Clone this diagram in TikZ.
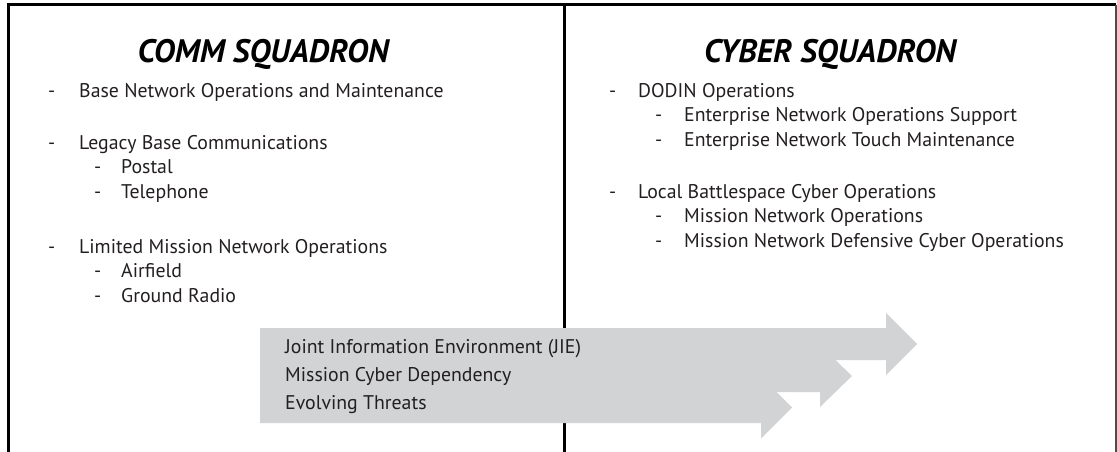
\documentclass[tikz,border=0pt]{standalone}
\usepackage{fontspec}
\setmainfont{PT Sans}
\definecolor{inkblack}{HTML}{231F20}
\definecolor{trendgrey}{HTML}{D1D3D4}
% grey trend arrow: top, bottom, start of head, tip
\newcommand\trendarrow[4]{\fill[trendgrey] (260,#1) -- (#3,#1) -- (#3,{(#1+#2)/2-31}) -- (#4,{(#1+#2)/2}) -- (#3,{(#1+#2)/2+31}) -- (#3,#2) -- (260,#2) -- cycle;}

\begin{document}
\begin{tikzpicture}[x=1pt,y=-1pt,
	heading/.style={anchor=base, inner sep=0, text=black, font=\fontsize{32.5}{36}\selectfont\bfseries\itshape},
	item/.style={anchor=base west, inner sep=0, text=inkblack, font=\fontsize{19.8}{22}\selectfont},
	frameline/.style={line width=3pt, draw=black}]
		%%%%% START %%%%%
		\useasboundingbox (0,0) rectangle (1117,452);
		
		% frame, open at the bottom
		\draw[frameline] (8,452) -- (8,5) -- (1116,5);
		\draw[line width=2pt, draw=black!70] (1115.5,5) -- (1115.5,452);
		\draw[frameline] (564,5) -- (564,452);
		
		% headings
		\node[heading] (commtitle) at (263,63) {COMM SQUADRON};
		\node[heading] (cybertitle) at (830,63) {CYBER SQUADRON};
		
		% comm squadron list
		\node[item] (commdashA) at (48,97) {-};
		\node[item] (commA) at (79,97) {Base Network Operations and Maintenance};
		\node[item] (commdashB) at (48,149) {-};
		\node[item] (commB) at (79,149) {Legacy Base Communications};
		\node[item] (commdashBa) at (94,173.5) {-};
		\node[item] (commBa) at (121,173.5) {Postal};
		\node[item] (commdashBb) at (94,198) {-};
		\node[item] (commBb) at (121,198) {Telephone};
		\node[item] (commdashC) at (48,253) {-};
		\node[item] (commC) at (79,253) {Limited Mission Network Operations};
		\node[item] (commdashCa) at (94,277.5) {-};
		\node[item] (commCa) at (121,277.5) {Airfield};
		\node[item] (commdashCb) at (94,302) {-};
		\node[item] (commCb) at (121,302) {Ground Radio};
		
		% cyber squadron list
		\node[item] (cyberdashA) at (609,97) {-};
		\node[item] (cyberA) at (638,97) {DODIN Operations};
		\node[item] (cyberdashAa) at (655,121.5) {-};
		\node[item] (cyberAa) at (684,121.5) {Enterprise Network Operations Support};
		\node[item] (cyberdashAb) at (655,146) {-};
		\node[item] (cyberAb) at (684,146) {Enterprise Network Touch Maintenance};
		\node[item] (cyberdashB) at (609,198) {-};
		\node[item] (cyberB) at (638,198) {Local Battlespace Cyber Operations};
		\node[item] (cyberdashBa) at (655,222.5) {-};
		\node[item] (cyberBa) at (684,222.5) {Mission Network Operations};
		\node[item] (cyberdashBb) at (655,247) {-};
		\node[item] (cyberBb) at (684,247) {Mission Network Defensive Cyber Operations};
		
		% trend arrows, lowest first
		\trendarrow{392}{423}{761}{792}
		\trendarrow{360}{392}{820}{852}
		\trendarrow{328}{360}{886}{917}
		
		\node[item] (trendA) at (285,353) {Joint Information Environment (JIE)};
		\node[item] (trendB) at (285,381) {Mission Cyber Dependency};
		\node[item] (trendC) at (285,409) {Evolving Threats};
		
		%%%%% END %%%%%
\end{tikzpicture}
\end{document}
